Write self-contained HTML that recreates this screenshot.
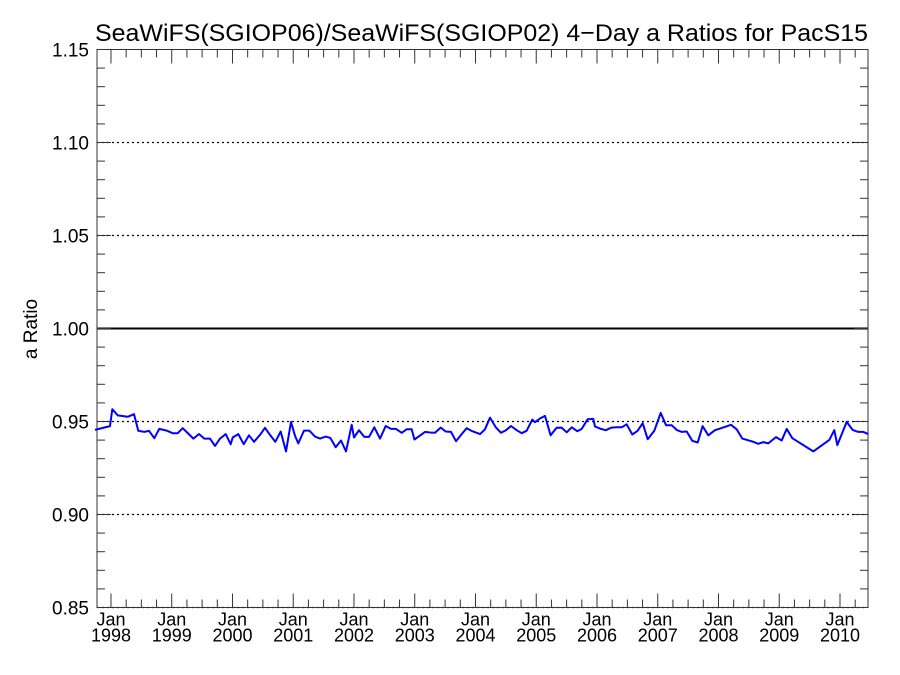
<!DOCTYPE html>
<html><head><meta charset="utf-8"><style>body{margin:0;background:#fff}svg{display:block;font-family:"Liberation Sans",sans-serif}</style></head>
<body>
<svg id="chart" width="900" height="675" xmlns="http://www.w3.org/2000/svg">
<text x="95" y="41" font-size="24.5" textLength="773" lengthAdjust="spacingAndGlyphs">SeaWiFS(SGIOP06)/SeaWiFS(SGIOP02) 4−Day a Ratios for PacS15</text>
<text x="0" y="0" font-size="19" text-anchor="middle" transform="translate(37,329) rotate(-90)">a Ratio</text>
<g id="grid"></g><g id="axes"></g><g id="series"></g>
</svg>
<script>
const dates=[1997.737,1997.984,1998.022,1998.110,1998.275,1998.379,1998.450,1998.549,1998.626,1998.714,1998.796,1998.917,1999.015,1999.098,1999.180,1999.273,1999.356,1999.449,1999.537,1999.630,1999.712,1999.795,1999.888,1999.970,2000.003,2000.096,2000.184,2000.272,2000.354,2000.453,2000.535,2000.618,2000.705,2000.793,2000.881,2000.963,2001.029,2001.084,2001.177,2001.265,2001.358,2001.441,2001.534,2001.611,2001.699,2001.786,2001.869,2001.962,2002.000,2002.083,2002.170,2002.247,2002.335,2002.428,2002.522,2002.609,2002.692,2002.785,2002.867,2002.950,2002.994,2003.087,2003.169,2003.251,2003.334,2003.427,2003.509,2003.597,2003.679,2003.773,2003.855,2003.948,2004.074,2004.156,2004.239,2004.337,2004.420,2004.502,2004.584,2004.678,2004.760,2004.842,2004.935,2004.979,2005.062,2005.144,2005.237,2005.336,2005.418,2005.501,2005.583,2005.676,2005.748,2005.846,2005.940,2005.967,2006.049,2006.143,2006.241,2006.324,2006.406,2006.488,2006.582,2006.669,2006.752,2006.834,2006.944,2007.048,2007.136,2007.229,2007.311,2007.394,2007.476,2007.569,2007.657,2007.739,2007.833,2007.942,2008.025,2008.206,2008.299,2008.392,2008.491,2008.573,2008.656,2008.738,2008.820,2008.946,2009.040,2009.122,2009.215,2009.561,2009.824,2009.907,2009.956,2010.110,2010.208,2010.302,2010.384,2010.466];
const ratios=[0.9455,0.9475,0.9566,0.9533,0.9525,0.9539,0.9450,0.9444,0.9450,0.9410,0.9460,0.9451,0.9437,0.9437,0.9464,0.9435,0.9408,0.9433,0.9408,0.9408,0.9369,0.9408,0.9432,0.9378,0.9414,0.9432,0.9378,0.9426,0.9391,0.9428,0.9466,0.9428,0.9391,0.9446,0.9339,0.9498,0.9423,0.9382,0.9451,0.9451,0.9419,0.9408,0.9419,0.9412,0.9362,0.9398,0.9339,0.9482,0.9414,0.9453,0.9417,0.9417,0.9469,0.9408,0.9476,0.9460,0.9460,0.9439,0.9458,0.9458,0.9403,0.9424,0.9444,0.9441,0.9439,0.9467,0.9446,0.9444,0.9394,0.9432,0.9464,0.9448,0.9432,0.9458,0.9521,0.9467,0.9439,0.9453,0.9476,0.9453,0.9437,0.9450,0.9510,0.9496,0.9516,0.9530,0.9426,0.9466,0.9467,0.9442,0.9469,0.9448,0.9460,0.9512,0.9514,0.9473,0.9462,0.9453,0.9467,0.9469,0.9469,0.9485,0.9430,0.9450,0.9491,0.9405,0.9450,0.9546,0.9480,0.9480,0.9455,0.9444,0.9446,0.9396,0.9387,0.9475,0.9426,0.9453,0.9462,0.9482,0.9458,0.9408,0.9399,0.9391,0.9380,0.9389,0.9382,0.9416,0.9398,0.9460,0.9410,0.9339,0.9401,0.9453,0.9373,0.9498,0.9455,0.9444,0.9444,0.9432];
const yTicks=[0.85,0.90,0.95,1.00,1.05,1.10,1.15];
const yTickLabels=["0.85","0.90","0.95","1.00","1.05","1.10","1.15"];
const xYears=[1998,1999,2000,2001,2002,2003,2004,2005,2006,2007,2008,2009,2010];
const gridVals=[0.85,0.90,0.95,1.05,1.10];

const L=97,R=868,T=49.5,B=607.5,X0=1997.770,X1=2010.461,Y0=0.85,Y1=1.15;
const sx=v=>L+(v-X0)/(X1-X0)*(R-L);
const sy=v=>B-(v-Y0)/(Y1-Y0)*(B-T);
const NS="http://www.w3.org/2000/svg";
function mk(tag,parent,attrs){const e=document.createElementNS(NS,tag);for(const k in attrs)e.setAttribute(k,attrs[k]);parent.appendChild(e);return e;}
const grid=document.getElementById('grid'),axes=document.getElementById('axes'),ser=document.getElementById('series');
gridVals.forEach(v=>{const l=mk('line',grid,{x1:L,x2:R,y1:sy(v),y2:sy(v),stroke:'#000','stroke-width':1.3,'stroke-dasharray':'2,3'});

});
const ref=mk('line',grid,{x1:L,x2:R,y1:sy(1),y2:sy(1),stroke:'#000','stroke-width':2});


const frame=mk('rect',axes,{x:L,y:T,width:R-L,height:B-T,fill:'none',stroke:'#333','stroke-width':1});


for(let i=0;i<=30;i++){const v=Y0+i*0.01,y=sy(v),len=(i%5===0)?14:8;
mk('line',axes,{x1:L,x2:L+len,y1:y,y2:y,stroke:'#333'});mk('line',axes,{x1:R,x2:R-len,y1:y,y2:y,stroke:'#333'});}
yTicks.forEach((v,i)=>{const t=mk('text',axes,{x:L-8,y:sy(v)+7,'font-size':19,'text-anchor':'end'});t.textContent=yTickLabels[i];

});
for(let q=0;q<60;q++){const v=1997.75+q*0.25;if(v<X0||v>X1)continue;const x=sx(v),maj=Math.abs(v-Math.round(v))<1e-6,len=maj?14:8;
mk('line',axes,{x1:x,x2:x,y1:B,y2:B-len,stroke:'#333'});mk('line',axes,{x1:x,x2:x,y1:T,y2:T+len,stroke:'#333'});}
xYears.forEach(yr=>{const x=sx(yr);
const a=mk('text',axes,{x:x,y:B+18,'font-size':18,'text-anchor':'middle'});a.textContent='Jan';


const b=mk('text',axes,{x:x,y:B+34,'font-size':18,'text-anchor':'middle'});b.textContent=String(yr);

});
const pts=dates.map((d,i)=>sx(d).toFixed(1)+','+sy(ratios[i]).toFixed(1)).join(' ');
const pl=mk('polyline',ser,{points:pts,fill:'none',stroke:'#0000ff','stroke-width':2,'stroke-linejoin':'round'});


</script>
</body></html>
